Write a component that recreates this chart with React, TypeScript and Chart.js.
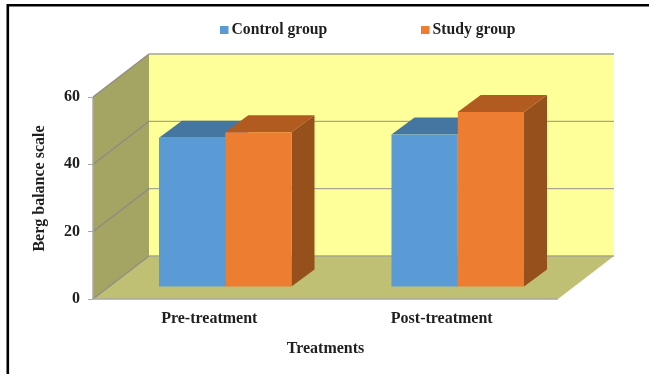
import React, { useEffect, useRef } from "react";
import { Chart, registerables } from "chart.js";

Chart.register(...registerables);

const categories = ["Pre-treatment", "Post-treatment"];
const controlGroup = [44.3, 45.3];
const studyGroup = [46, 52];
const yTicks = [0, 20, 40, 60];
const yAxisTitle = "Berg balance scale";

const SERIF = "'Liberation Serif', serif";
const FONT = { family: SERIF, weight: "bold", size: 16 };
const INK = "#1f1f1f";
const DEPTH_X = 56;
const DEPTH_Y = 43;
const BAR_OFFSET_X = 16;
const BAR_OFFSET_Y = 12;
const BAR_DEPTH_X = 23;
const BAR_DEPTH_Y = 17;

const poly = (ctx: CanvasRenderingContext2D, pts: number[][], fill: string) => {
  ctx.beginPath();
  pts.forEach(([x, y], i) => (i ? ctx.lineTo(x, y) : ctx.moveTo(x, y)));
  ctx.closePath();
  ctx.fillStyle = fill;
  ctx.fill();
};

const seg = (ctx: CanvasRenderingContext2D, pts: number[][], color = "#a6a690", width = 1.4) => {
  ctx.beginPath();
  pts.forEach(([x, y], i) => (i ? ctx.lineTo(x, y) : ctx.moveTo(x, y)));
  ctx.strokeStyle = color;
  ctx.lineWidth = width;
  ctx.stroke();
};

// Box walls, floor and gridlines behind the bars, placed from the value scale.
const wallsPlugin = {
  id: "walls",
  beforeDatasetsDraw(chart: any) {
    const { ctx, chartArea: a, scales } = chart;
    const y = scales.y;
    const top = y.getPixelForValue(60);
    const base = y.getPixelForValue(0);
    const dx = DEPTH_X;
    const dy = DEPTH_Y;
    ctx.save();
    poly(ctx, [[a.left + dx, top - dy], [a.right + dx, top - dy], [a.right + dx, base - dy], [a.left + dx, base - dy]], "#ffff99");
    poly(ctx, [[a.left, top], [a.left + dx, top - dy], [a.left + dx, base - dy], [a.left, base]], "#a5a563");
    poly(ctx, [[a.left, base], [a.left + dx, base - dy], [a.right + dx, base - dy], [a.right, base]], "#c0c075");
    yTicks.forEach((t) => {
      const p = y.getPixelForValue(t);
      seg(ctx, [[a.left, p], [a.left + dx, p - dy]], "#8e8e82");
      seg(ctx, [[a.left + dx, p - dy], [a.right + dx, p - dy]]);
    });
    seg(ctx, [[a.left, top], [a.left, base], [a.right, base]], "#a9a9a2");
    ctx.restore();
  },
};

// Side and top faces of each bar, then an offset so the fronts stand inside the box.
const depthPlugin = {
  id: "barDepth",
  beforeDatasetsDraw(chart: any) {
    const { ctx } = chart;
    const sides = ["#2e75b6", "#96501c"];
    const tops = ["#4476a1", "#b25b20"];
    ctx.save();
    ctx.translate(BAR_OFFSET_X, -BAR_OFFSET_Y);
    categories.forEach((_, c) => {
      chart.data.datasets.forEach((_d: any, s: number) => {
        const bar = chart.getDatasetMeta(s).data[c];
        const l = bar.x - bar.width / 2;
        const r = bar.x + bar.width / 2;
        const dx = BAR_DEPTH_X;
        const dy = BAR_DEPTH_Y;
        poly(ctx, [[r, bar.y], [r + dx, bar.y - dy], [r + dx, bar.base - dy], [r, bar.base]], sides[s]);
        poly(ctx, [[l, bar.y], [l + dx, bar.y - dy], [r + dx, bar.y - dy], [r, bar.y]], tops[s]);
      });
    });
  },
  afterDatasetsDraw(chart: any) {
    chart.ctx.restore();
  },
};

// Legend row, value-axis title and the top and left rules of the figure.
const framePlugin = {
  id: "frame",
  afterDraw(chart: any) {
    const { ctx, width, height } = chart;
    ctx.save();
    seg(ctx, [[7.8, height], [7.8, 5.3], [width, 5.3]], "#000", 2.6);
    const xs = [220, 421];
    ctx.font = `bold 15.7px ${SERIF}`;
    ctx.textBaseline = "middle";
    chart.data.datasets.forEach((d: any, i: number) => {
      ctx.fillStyle = d.backgroundColor;
      ctx.fillRect(xs[i], 26, 8.5, 8);
      ctx.fillStyle = INK;
      ctx.fillText(d.label, xs[i] + 11.5, 30);
    });
    ctx.font = `bold 16px ${SERIF}`;
    ctx.textAlign = "center";
    ctx.translate(39.5, 188.5);
    ctx.rotate(-Math.PI / 2);
    ctx.fillText(yAxisTitle, 0, 0);
    ctx.restore();
  },
};

export default function App() {
  const ref = useRef<HTMLCanvasElement>(null);
  useEffect(() => {
    const chart = new Chart(ref.current as HTMLCanvasElement, {
      type: "bar",
      data: {
        labels: categories,
        datasets: [
          { label: "Control group", data: controlGroup, backgroundColor: "#5b9bd5", barPercentage: 1, categoryPercentage: 0.57 },
          { label: "Study group", data: studyGroup, backgroundColor: "#ed7d31", barPercentage: 1, categoryPercentage: 0.57 },
        ],
      },
      options: {
        responsive: false,
        animation: false,
        layout: { padding: { top: 97, right: 91, left: 0, bottom: 0 } },
        plugins: { legend: { display: false }, title: { display: false }, tooltip: { enabled: false } },
        scales: {
          x: {
            grid: { display: false },
            border: { display: false },
            ticks: { color: INK, font: FONT, padding: 2, maxRotation: 0 },
            title: { display: true, text: "Treatments", color: INK, font: FONT, padding: { top: 12, bottom: 16 } },
            afterFit(scale: any) { scale.height = 75; },
          },
          y: {
            min: 0,
            max: 60,
            afterBuildTicks(scale: any) { scale.ticks = yTicks.map((value) => ({ value })); },
            grid: { drawOnChartArea: false, color: "#a9a9a2", tickLength: 5 },
            border: { display: false },
            ticks: { color: INK, font: FONT, padding: 8 },
            afterFit(scale: any) { scale.width = 93; },
          },
        },
      } as any,
      plugins: [wallsPlugin, depthPlugin, framePlugin],
    });
    return () => chart.destroy();
  }, []);
  return (
    <div style={{ position: "absolute", left: 0, top: 0, width: 649, height: 374, overflow: "hidden", background: "#fff" }}>
      <canvas ref={ref} width={649} height={374} style={{ display: "block" }} />
    </div>
  );
}
